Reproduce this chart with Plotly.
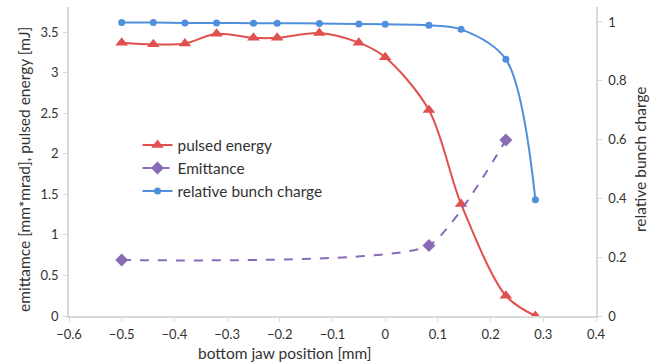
import plotly.graph_objects as go

# bottom jaw position [mm]
jaw_pos = [-0.5, -0.44, -0.38, -0.32, -0.25, -0.205, -0.125, -0.05, 0.0, 0.083, 0.144, 0.229, 0.285]
# pulsed energy [mJ]
pulsed_energy = [3.37, 3.35, 3.36, 3.48, 3.43, 3.43, 3.49, 3.37, 3.19, 2.54, 1.38, 0.25, 0.0]
# relative bunch charge
bunch_charge = [0.998, 0.998, 0.997, 0.997, 0.996, 0.996, 0.995, 0.993, 0.992, 0.989, 0.975, 0.873, 0.395]
# emittance [mm*mrad]
emit_pos = [-0.5, 0.083, 0.229]
emittance = [0.69, 0.87, 2.17]

RED = "#E0504F"
PURPLE = "#8A6BB8"
BLUE = "#4F8FDB"
AXIS = "#D9D9D9"
TEXT = "#333333"
FONT = "Lato"

fig = go.Figure()
fig.add_trace(go.Scatter(
    x=jaw_pos, y=pulsed_energy, name="pulsed energy", mode="lines+markers",
    legendgroup="a",
    line=dict(color=RED, width=2, shape="spline", smoothing=0.9),
    marker=dict(symbol="triangle-up", size=11, color=RED),
))
fig.add_trace(go.Scatter(
    x=emit_pos, y=emittance, name="Emittance", mode="lines+markers",
    legendgroup="b",
    line=dict(color=PURPLE, width=2, dash="dash", shape="spline", smoothing=0.5),
    marker=dict(symbol="diamond", size=10, color=PURPLE),
))
fig.add_trace(go.Scatter(
    x=jaw_pos, y=bunch_charge, name="relative bunch charge", mode="lines+markers",
    legendgroup="c",
    line=dict(color=BLUE, width=2, shape="spline", smoothing=0.9),
    marker=dict(symbol="circle", size=7, color=BLUE),
    yaxis="y2",
))

axis_common = dict(
    showgrid=False, zeroline=False, showline=True, linecolor=AXIS, linewidth=1.5,
    ticks="outside", tickcolor=AXIS, ticklen=4,
    tickfont=dict(family=FONT, size=13, color=TEXT),
)

fig.update_layout(
    width=655, height=364,
    margin=dict(l=69, r=59, t=7, b=48),
    paper_bgcolor="white", plot_bgcolor="white",
    font=dict(family=FONT, size=13, color=TEXT),
    xaxis=dict(range=[-0.6, 0.4], dtick=0.1, ticklabelstandoff=2, **axis_common),
    yaxis=dict(range=[0, 3.81], dtick=0.5, tick0=0, ticklabelstandoff=2, **axis_common),
    yaxis2=dict(range=[0, 1.051], dtick=0.2, tick0=0, overlaying="y", side="right",
                ticklabelstandoff=4, **axis_common),
    legend=dict(x=0.13, y=0.607, xanchor="left", yanchor="top", bgcolor="rgba(0,0,0,0)",
                font=dict(family=FONT, size=15.4, color=TEXT), tracegroupgap=0,
                traceorder="grouped", itemwidth=30),
    showlegend=True,
    annotations=[
        dict(text="bottom jaw position [mm]", xref="paper", yref="paper",
             x=0.41, y=-0.12, xanchor="center", yanchor="middle", showarrow=False,
             font=dict(family=FONT, size=15.5, color=TEXT)),
        dict(text="emittamce [mm*mrad], pulsed energy [mJ]", xref="paper", yref="paper",
             x=-0.0854, y=0.476, xanchor="center", yanchor="middle", textangle=-90,
             showarrow=False, font=dict(family=FONT, size=15.5, color=TEXT)),
        dict(text="relative bunch charge", xref="paper", yref="paper",
             x=1.0835, y=0.508, xanchor="center", yanchor="middle", textangle=-90,
             showarrow=False, font=dict(family=FONT, size=15.5, color=TEXT)),
    ],
)

fig.write_html("out.html")
